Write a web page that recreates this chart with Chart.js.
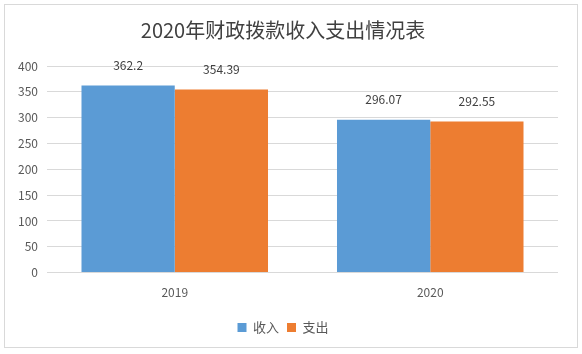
<!DOCTYPE html>
<html><head><meta charset="utf-8">
<script src="https://cdn.jsdelivr.net/npm/chart.js@4/dist/chart.umd.min.js"></script>
<style>html,body{margin:0;padding:0;background:#fff}#wrap{position:absolute;left:0;top:0;width:582px;height:354px}</style>
</head><body><div id="wrap"><canvas id="c" width="582" height="354"></canvas></div>
<script>
const categories = ['2019', '2020'];
const incomeValues = [362.2, 296.07];
const expenseValues = [354.39, 292.55];
const seriesNames = ['收入', '支出'];
const yTicks = [0, 50, 100, 150, 200, 250, 300, 350, 400];

const FONT = '"Noto Sans CJK SC", "DejaVu Sans", sans-serif';

const borderPlugin = {
  id: 'outerBorder',
  beforeDraw(chart) {
    const ctx = chart.ctx;
    ctx.save();
    ctx.fillStyle = '#fff';
    ctx.fillRect(0, 0, chart.width, chart.height);
    ctx.strokeStyle = '#d9d9d9';
    ctx.lineWidth = 1;
    ctx.strokeRect(4.5, 4.5, 573, 343);
    ctx.restore();
  }
};

const labelPlugin = {
  id: 'valueLabels',
  afterDatasetsDraw(chart) {
    const ctx = chart.ctx;
    ctx.save();
    ctx.font = '12px ' + FONT;
    ctx.fillStyle = '#404040';
    ctx.textAlign = 'center';
    ctx.textBaseline = 'bottom';
    chart.data.datasets.forEach((ds, i) => {
      const meta = chart.getDatasetMeta(i);
      meta.data.forEach((bar, j) => {
        ctx.fillText(String(ds.data[j]), bar.x, bar.y - 14);
      });
    });
    ctx.restore();
  }
};

new Chart(document.getElementById('c'), {
  type: 'bar',
  data: {
    labels: categories,
    datasets: [
      { label: seriesNames[0], data: incomeValues, backgroundColor: '#5B9BD5', categoryPercentage: 0.73, barPercentage: 1 },
      { label: seriesNames[1], data: expenseValues, backgroundColor: '#ED7D31', categoryPercentage: 0.73, barPercentage: 1 }
    ]
  },
  options: {
    responsive: false,
    animation: false,
    devicePixelRatio: 1,
    layout: { padding: { left: 8, right: 24, top: 0, bottom: 10 } },
    plugins: {
      title: {
        display: true,
        text: '2020年财政拨款收入支出情况表',
        color: '#404040',
        font: { family: FONT, size: 20, weight: 'normal' },
        padding: { top: 18, bottom: 24 }
      },
      legend: {
        position: 'bottom',
        labels: {
          boxWidth: 9, boxHeight: 9, padding: 8,
          color: '#595959',
          font: { family: FONT, size: 13 }
        }
      },
      tooltip: { enabled: false }
    },
    scales: {
      x: {
        grid: { display: false, drawTicks: false },
        border: { display: false },
        ticks: { color: '#595959', font: { family: FONT, size: 12 }, padding: 13 }
      },
      y: {
        min: 0, max: 400,
        afterBuildTicks(axis) { axis.ticks = yTicks.map(v => ({ value: v })); },
        afterFit(axis) { axis.width = 39; },
        grid: { color: '#d9d9d9', drawTicks: false },
        border: { display: false },
        ticks: { color: '#595959', font: { family: FONT, size: 12 }, padding: 9 }
      }
    }
  },
  plugins: [borderPlugin, labelPlugin]
});
</script></body></html>
